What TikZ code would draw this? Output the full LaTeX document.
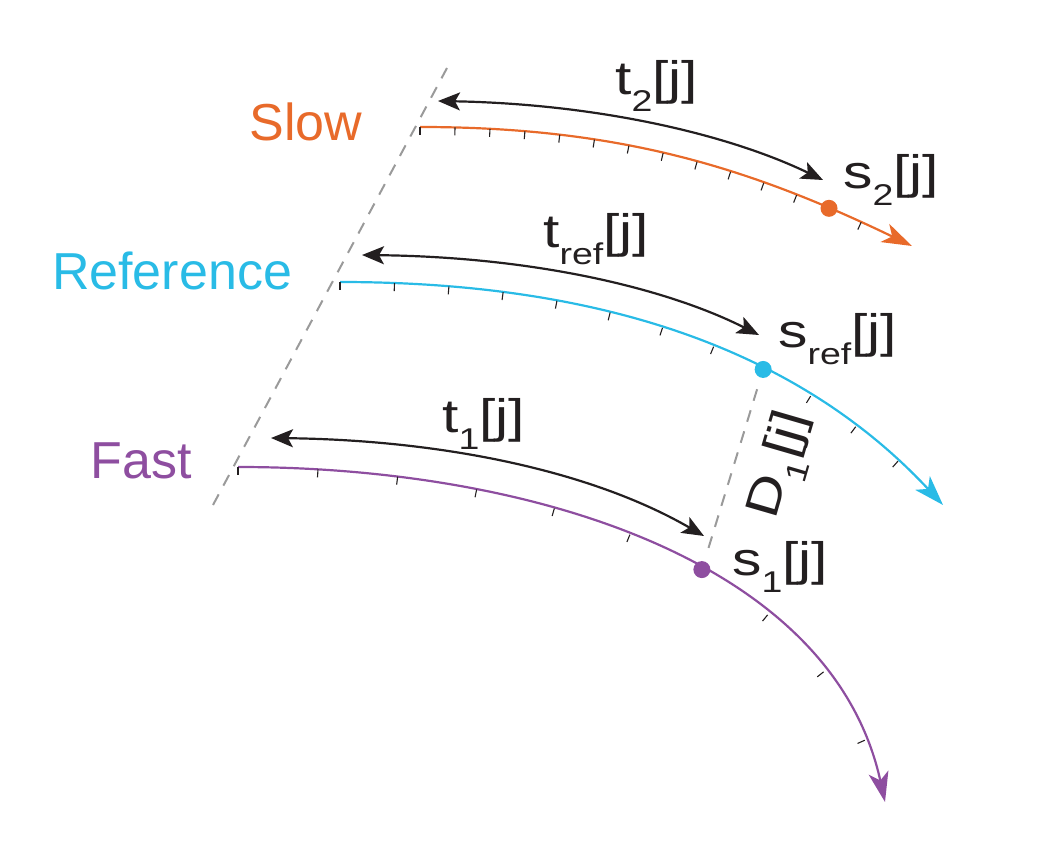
\documentclass[tikz,border=0pt]{standalone}
\usepackage{graphicx}
\usepackage{fontspec}
\setmainfont{Liberation Sans}
\usetikzlibrary{arrows.meta,decorations.markings}

\definecolor{slowc}{RGB}{232,106,42}
\definecolor{refc}{RGB}{41,187,230}
\definecolor{fastc}{RGB}{142,78,160}
\definecolor{dashc}{RGB}{154,154,154}
\definecolor{inkc}{RGB}{35,31,32}

\newcommand{\lowsub}[1]{\raisebox{-17pt}{\fontsize{30}{34}\selectfont #1}}
\newcommand{\widelbl}[1]{\scalebox{1.25}[1]{#1}}

\tikzset{
  pathline/.style={line width=2.2pt,-{Stealth[length=30pt,width=20pt,inset=8pt]}},
  tickmark/.style={draw=inkc,line width=1.1pt,-},
  spanarrow/.style={draw=inkc,line width=2.2pt,
    {Stealth[length=22pt,width=18pt,inset=5pt]}-{Stealth[length=22pt,width=18pt,inset=5pt]}},
  guide/.style={draw=dashc,line width=2pt,dash pattern=on 12pt off 10pt},
  sdot/.style={circle,inner sep=0pt,minimum size=17pt},
  pace/.style={font=\fontsize{52}{60}\selectfont,inner sep=0pt},
  lbl/.style={font=\fontsize{47}{56}\selectfont,text=inkc,inner sep=0pt,anchor=base west},
}

\begin{document}
\begin{tikzpicture}[x=1pt,y=-1pt]
  \useasboundingbox (0,0) rectangle (1039,867);

  % start line
  \coordinate (gtop) at (447,68);
  \coordinate (gbot) at (213,505);
  \draw[guide] (gbot) -- (gtop);

  % the three sampled paths
  \draw[pathline,slowc,postaction={decorate},decoration={markings,
      mark=between positions 0pt and 460pt step 35pt with {\draw[tickmark] (0pt,0pt) -- (0pt,-8pt);},
      mark=at position 420pt with {\coordinate (s2pt);}}]
    (420,127) .. controls (620,127) and (750,168) .. (912,246);
  \draw[pathline,refc,postaction={decorate},decoration={markings,
      mark=between positions 0pt and 600pt step 54.5pt with {\draw[tickmark] (0pt,0pt) -- (0pt,-8pt);},
      mark=at position 436pt with {\coordinate (srefpt);}}]
    (340,282) .. controls (560,282) and (780,330) .. (943,505);
  \draw[pathline,fastc,postaction={decorate},decoration={markings,
      mark=between positions 0pt and 725pt step 80pt with {\draw[tickmark] (0pt,0pt) -- (0pt,-8pt);},
      mark=at position 480pt with {\coordinate (s1pt);}}]
    (238,467) .. controls (530,467) and (832,560) .. (885,802);

  \node[sdot,fill=slowc] (s2) at (s2pt) {};
  \node[sdot,fill=refc] (sref) at (srefpt) {};
  \node[sdot,fill=fastc] (s1) at (s1pt) {};
  \draw[guide,shorten <=12pt,shorten >=12pt] (sref) -- (s1);

  % time spans
  \coordinate (t2a) at (438,101);
  \coordinate (t2b) at (823,180);
  \coordinate (trefa) at (362,255);
  \coordinate (trefb) at (759,335);
  \coordinate (t1a) at (271,438);
  \coordinate (t1b) at (704,536);
  \draw[spanarrow] (t2a) .. controls (600,104) and (730,135) .. (t2b);
  \draw[spanarrow] (trefa) .. controls (540,257) and (670,290) .. (trefb);
  \draw[spanarrow] (t1a) .. controls (440,440) and (590,470) .. (t1b);

  % labels
  \node[pace,text=slowc] (slow) at (306,122) {Slow};
  \node[pace,text=refc] (reference) at (172,271) {Reference};
  \node[pace,text=fastc] (fast) at (141,461) {Fast};
  \node[lbl] (t2lbl) at (615,95) {\widelbl{t\lowsub{2}[j]}};
  \node[lbl] (s2lbl) at (843,188) {\widelbl{s\lowsub{2}[j]}};
  \node[lbl] (treflbl) at (543,247) {\widelbl{t\lowsub{ref}[j]}};
  \node[lbl] (sreflbl) at (778,347) {\widelbl{s\lowsub{ref}[j]}};
  \node[lbl] (t1lbl) at (442,432) {\widelbl{t\lowsub{1}[j]}};
  \node[lbl] (s1lbl) at (732,575) {\widelbl{s\lowsub{1}[j]}};
  \node[lbl,anchor=center,rotate=73.8] (d1lbl) at (783,466) {\widelbl{D\lowsub{1}[j]}};
\end{tikzpicture}
\end{document}
